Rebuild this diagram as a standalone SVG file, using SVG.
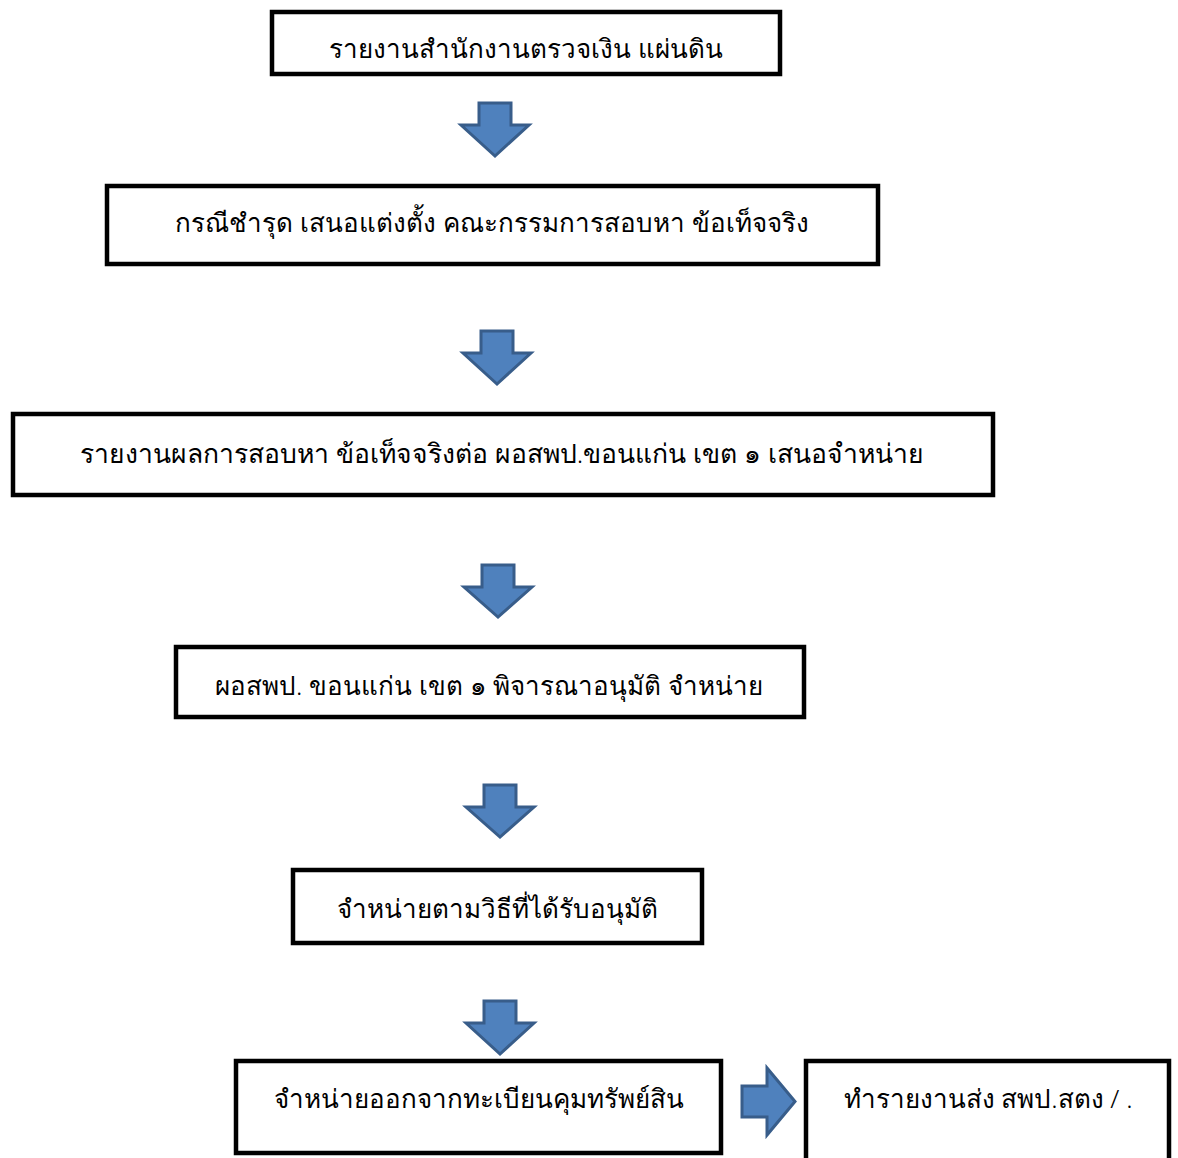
<svg xmlns="http://www.w3.org/2000/svg" width="1178" height="1158" viewBox="0 0 1178 1158">
<style>
.box{fill:#fff;stroke:#000;stroke-width:4.5}
.t{font-family:"Noto Sans","DejaVu Sans",sans-serif;font-size:26px;font-weight:300;fill:#000;text-anchor:middle}
.arr{fill:#4F81BD;stroke:#385D8A;stroke-width:3;stroke-linejoin:miter}
</style>
<rect width="1178" height="1158" fill="#fff"/>
<g id="connectors">
<path class="arr" transform="translate(495,103)" d="M-16,0 H16 V22 H34 L0,53 L-34,22 H-16 Z"/>
<path class="arr" transform="translate(497,331)" d="M-16,0 H16 V22 H34 L0,53 L-34,22 H-16 Z"/>
<path class="arr" transform="translate(498,565)" d="M-16,0 H16 V22 H34 L0,52 L-34,22 H-16 Z"/>
<path class="arr" transform="translate(500,785)" d="M-16,0 H16 V22 H34 L0,52 L-34,22 H-16 Z"/>
<path class="arr" transform="translate(500,1001)" d="M-16,0 H16 V22 H34 L0,53 L-34,22 H-16 Z"/>
<path class="arr" d="M742,1086 H767 V1068 L795,1101.5 L767,1135 V1117 H742 Z"/>
</g>
<g id="n1"><rect class="box" x="272" y="12" width="508" height="62"/><text class="t" x="526" y="58">รายงานสำนักงานตรวจเงิน แผ่นดิน</text></g>
<g id="n2"><rect class="box" x="107" y="186" width="771" height="78"/><text class="t" x="492" y="232">กรณีชำรุด เสนอแต่งตั้ง คณะกรรมการสอบหา ข้อเท็จจริง</text></g>
<g id="n3"><rect class="box" x="13" y="414" width="980" height="81"/><text class="t" x="502" y="463" style="font-size:26.5px">รายงานผลการสอบหา ข้อเท็จจริงต่อ ผอสพป.ขอนแก่น เขต ๑ เสนอจำหน่าย</text></g>
<g id="n4"><rect class="box" x="176" y="647" width="628" height="70"/><text class="t" x="489" y="695">ผอสพป. ขอนแก่น เขต ๑ พิจารณาอนุมัติ จำหน่าย</text></g>
<g id="n5"><rect class="box" x="293" y="870" width="409" height="73"/><text class="t" x="497" y="918">จำหน่ายตามวิธีที่ได้รับอนุมัติ</text></g>
<g id="n6"><rect class="box" x="236" y="1061" width="485" height="92"/><text class="t" x="479" y="1108">จำหน่ายออกจากทะเบียนคุมทรัพย์สิน</text></g>
<g id="n7"><rect class="box" x="806" y="1061" width="363" height="110"/><text class="t" x="988" y="1108">ทำรายงานส่ง สพป.สตง / .</text></g>
</svg>
